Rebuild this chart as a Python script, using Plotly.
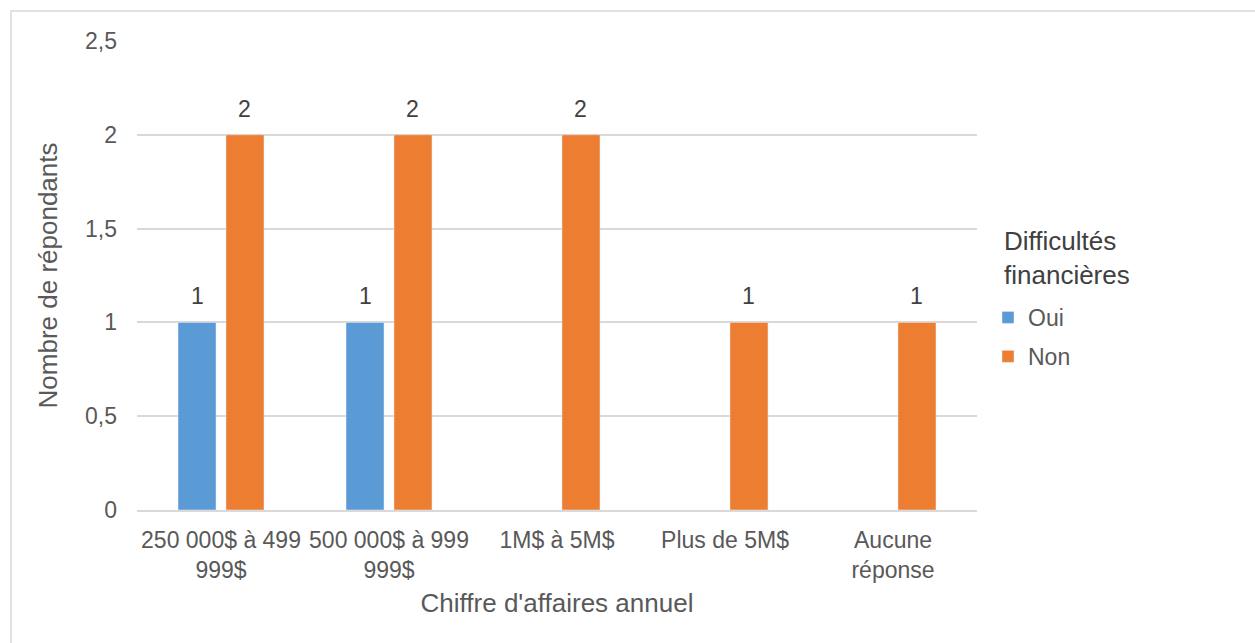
import plotly.graph_objects as go

categories = ["250 000$ à 499<br>999$", "500 000$ à 999<br>999$", "1M$ à 5M$",
              "Plus de 5M$", "Aucune<br>réponse"]
oui_values = [1, 1, None, None, None]
non_values = [2, 2, 2, 1, 1]
y_ticks = [0, 0.5, 1, 1.5, 2, 2.5]

W, H = 1255, 643
L, R, T, B = 137, 977, 41, 510

text_color = "#595959"
label_color = "#404040"
font_family = "Liberation Sans, Arial, sans-serif"

BARGAP = 0.429
cat_px = (R - L) / len(categories)
slot_px = cat_px * (1 - BARGAP) / 2

series = [("Oui", oui_values, "#5B9BD5"), ("Non", non_values, "#ED7D31")]

fig = go.Figure()
annotations = []
for i, (name, vals, color) in enumerate(series):
    fig.add_trace(go.Bar(name=name, x=categories, y=vals, marker_color=color,
                         legendgroup=name))
    shift = (i - (len(series) - 1) / 2) * slot_px
    for c, v in zip(categories, vals):
        if v is None:
            continue
        annotations.append(dict(
            x=c, y=v, xref="x", yref="y", text=str(v), showarrow=False,
            xshift=shift, yshift=11, yanchor="bottom",
            font=dict(size=23, color=label_color, family=font_family),
        ))

annotations.append(dict(
    x=(1002 - L) / (R - L), y=(B - 224) / (B - T), xref="paper", yref="paper",
    xanchor="left", yanchor="top", align="left", showarrow=False,
    text="Difficultés<br>financières",
    font=dict(size=26, color=label_color, family=font_family),
))

fig.update_layout(
    width=W, height=H,
    margin=dict(l=L, r=W - R, t=T, b=H - B, autoexpand=False),
    paper_bgcolor="white", plot_bgcolor="white",
    separators=", ",
    font=dict(family=font_family, color=text_color, size=23),
    barmode="group", bargap=BARGAP, bargroupgap=0.208,
    showlegend=True,
    legend=dict(
        x=(988 - L) / (R - L), y=(B - 296) / (B - T), xanchor="left", yanchor="top",
        font=dict(size=23, color=text_color),
        tracegroupgap=6, itemwidth=30,
    ),
    xaxis=dict(
        tickangle=0, showgrid=False, showline=True, linecolor="#D9D9D9", linewidth=1.5,
        ticks="", tickfont=dict(size=23, color=text_color), automargin=False,
        ticklabelstandoff=9,
        title=dict(text="Chiffre d'affaires annuel", font=dict(size=26, color=text_color), standoff=12),
    ),
    yaxis=dict(
        range=[0, 2.5], tickvals=y_ticks, showgrid=True, gridcolor="#D9D9D9", gridwidth=1.5,
        zeroline=False, showline=False, ticks="", ticklabelstandoff=19,
        tickfont=dict(size=23, color=text_color), automargin=False,
        title=dict(text="Nombre de répondants", font=dict(size=26, color=text_color), standoff=19),
    ),
    annotations=annotations,
    shapes=[dict(
        type="rect", xref="paper", yref="paper",
        x0=(11 - L) / (R - L), x1=(1262 - L) / (R - L),
        y0=(B - 650) / (B - T), y1=(B - 11) / (B - T),
        line=dict(color="#D9D9D9", width=1.5), fillcolor="rgba(0,0,0,0)", layer="below",
    )],
)

fig.write_html("out.html", config={"displayModeBar": False},
               post_script="document.body.style.margin='0';")
